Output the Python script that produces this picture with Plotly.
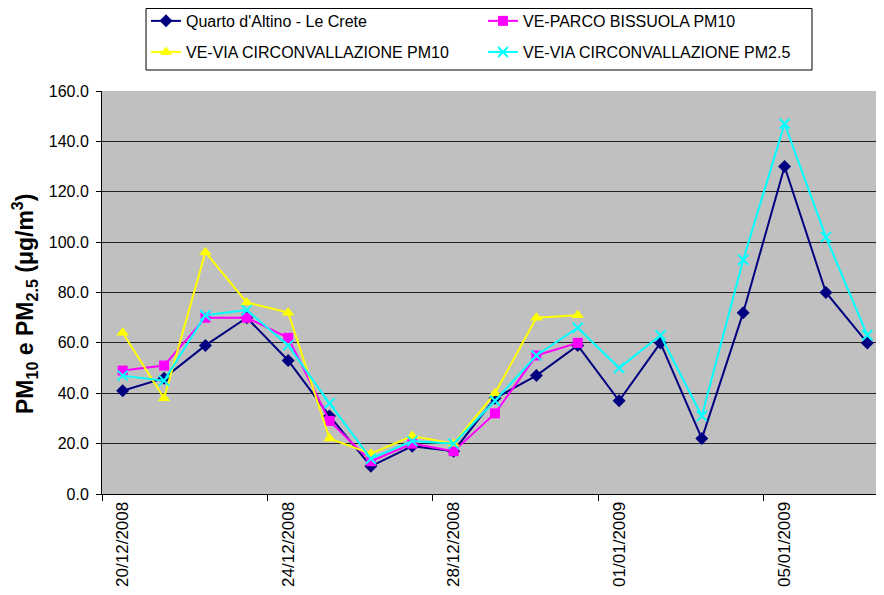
import plotly.graph_objects as go

# ── Data (daily values, µg/m3) ───────────────────────────────────────────────
dates = [
    "2008-12-20", "2008-12-21", "2008-12-22", "2008-12-23", "2008-12-24",
    "2008-12-25", "2008-12-26", "2008-12-27", "2008-12-28", "2008-12-29",
    "2008-12-30", "2008-12-31", "2009-01-01", "2009-01-02", "2009-01-03",
    "2009-01-04", "2009-01-05", "2009-01-06", "2009-01-07",
]
quarto = [41, 46, 59, 70, 53, 31, 11, 19, 17, 38, 47, 59, 37, 60, 22, 72, 130, 80, 60]
bissuola_pm10 = [49, 51, 70, 70, 62, 29, 13, 20, 17, 32, 55, 60]
circ_pm10 = [64, 38, 96, 76, 72, 22, 16, 23, 20, 40, 70, 71]
circ_pm25 = [47, 45, 71, 73, 59, 36, 14, 21, 20, 37, 55, 66, 50, 63, 31, 93, 147, 102, 63]

tick_dates = ["2008-12-20", "2008-12-24", "2008-12-28", "2009-01-01", "2009-01-05"]
tick_labels = ["20/12/2008", "24/12/2008", "28/12/2008", "01/01/2009", "05/01/2009"]

FONT = "Arial, Liberation Sans, sans-serif"

# name, values, colour, marker, marker size, legend row
series = [
    ("Quarto d'Altino - Le Crete", quarto, "#000080", "diamond", 10, "legend"),
    ("VE-PARCO BISSUOLA PM10", bissuola_pm10, "#FF00FF", "square", 10, "legend"),
    ("VE-VIA CIRCONVALLAZIONE PM10", circ_pm10, "#FFFF00", "triangle-up", 11, "legend2"),
    ("VE-VIA CIRCONVALLAZIONE PM2.5", circ_pm25, "#00FFFF", "x-thin", 10, "legend2"),
]

fig = go.Figure()
for name, vals, color, symbol, size, leg in series:
    marker = dict(symbol=symbol, size=size, color=color)
    if symbol == "x-thin":
        marker["line"] = dict(color=color, width=2)
    fig.add_trace(go.Scatter(
        x=dates[:len(vals)], y=vals, name=name, mode="lines+markers",
        line=dict(color=color, width=2), marker=marker, legend=leg,
    ))

# two one-row legends inside one drawn box (Excel-style 2x2 legend)
legend_style = dict(
    orientation="h", xref="container", yref="container",
    xanchor="left", yanchor="middle",
    entrywidth=292, entrywidthmode="pixels",
    bgcolor="rgba(0,0,0,0)", borderwidth=0,
    font=dict(family=FONT, size=16, color="black"),
)

fig.update_layout(
    width=884, height=595,
    paper_bgcolor="white",
    plot_bgcolor="#C0C0C0",
    font=dict(family=FONT, size=16, color="black"),
    margin=dict(l=94, r=4, t=83, b=109),
    showlegend=True,
    legend=dict(legend_style, x=0.1561, y=0.9782),
    legend2=dict(legend_style, x=0.1561, y=0.926),
    shapes=[dict(
        type="rect", xref="paper", yref="paper",
        x0=0.056, x1=0.9033, y0=1.0521, y1=1.2047,
        line=dict(color="black", width=1), fillcolor="white", layer="below",
    )],
    annotations=[dict(
        text="<b>PM<sub>10</sub> e PM<sub>2.5</sub> (μg/m<sup>3</sup>)</b>",
        xref="paper", yref="paper", x=-0.0992, y=0.4715,
        xanchor="center", yanchor="middle", textangle=-90, showarrow=False,
        font=dict(family=FONT, size=23, color="black"),
    )],
    xaxis=dict(
        type="date",
        range=["2008-12-19 12:00", "2009-01-07 12:00"],
        tickmode="array", tickvals=tick_dates, ticktext=tick_labels,
        tickangle=-90, ticks="", showgrid=False,
        showline=True, linecolor="black", linewidth=1,
        automargin=False,
        tickfont=dict(family=FONT, size=17, color="black"),
        minor=dict(ticks="outside", tickmode="linear", tick0="2008-12-19 12:00",
                   dtick=4 * 86400000, ticklen=6, tickcolor="black",
                   tickwidth=1, showgrid=False),
    ),
    yaxis=dict(
        range=[0, 160], dtick=20, tickformat=".1f",
        ticks="outside", ticklen=5, tickcolor="black", ticklabelstandoff=4,
        showgrid=True, gridcolor="#222222", gridwidth=1,
        showline=True, linecolor="black", linewidth=1,
        zeroline=False, automargin=False,
        tickfont=dict(family=FONT, size=16, color="black"),
    ),
)

fig.write_html("out.html")
